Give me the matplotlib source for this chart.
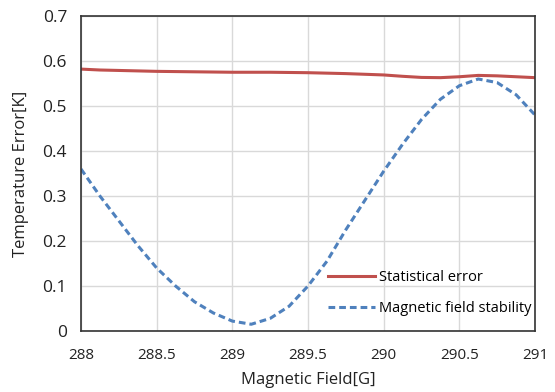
import matplotlib
matplotlib.use("Agg")
import matplotlib.pyplot as plt

field = [288, 288.125, 288.25, 288.375, 288.5, 288.625, 288.75, 288.875, 289, 289.125,
         289.25, 289.375, 289.5, 289.625, 289.75, 289.875, 290, 290.125, 290.25, 290.375,
         290.5, 290.625, 290.75, 290.875, 291]
stat_err = [0.582, 0.580, 0.579, 0.578, 0.577, 0.5765, 0.576, 0.5755, 0.575, 0.575,
            0.575, 0.5745, 0.574, 0.573, 0.572, 0.5705, 0.569, 0.566, 0.5635, 0.563,
            0.565, 0.568, 0.567, 0.565, 0.563]
mag_stab = [0.36, 0.30, 0.245, 0.19, 0.14, 0.10, 0.065, 0.04, 0.022, 0.015,
            0.028, 0.055, 0.10, 0.155, 0.225, 0.29, 0.355, 0.415, 0.47, 0.515,
            0.545, 0.56, 0.552, 0.525, 0.48]

plt.rcParams['font.family'] = ['Open Sans', 'DejaVu Sans']

fig = plt.figure(figsize=(5.55, 3.92), dpi=100)
ax = fig.add_axes([81/555, 1 - 331/392, 454/555, 315/392])

ax.plot(field, stat_err, color='#C0504D', lw=2.2, label='Statistical error')
ax.plot(field, mag_stab, color='#4F81BD', lw=2.2, linestyle=(0, (2.2, 1.3)),
        label='Magnetic field stability')

ax.set_xlim(288, 291)
ax.set_ylim(0, 0.7)
ax.set_xticks([288, 288.5, 289, 289.5, 290, 290.5, 291])
ax.set_xticklabels(['288', '288.5', '289', '289.5', '290', '290.5', '291'])
ax.set_yticks([0, 0.1, 0.2, 0.3, 0.4, 0.5, 0.6, 0.7])
ax.set_yticklabels(['0', '0.1', '0.2', '0.3', '0.4', '0.5', '0.6', '0.7'])
ax.tick_params(length=0, labelsize=12.5, colors='#222222', pad=10)
ax.tick_params(axis='x', pad=12, labelsize=11)
ax.grid(color='#D9D9D9', lw=1)
ax.set_axisbelow(True)
for s in ax.spines.values():
    s.set_color('#333333')
    s.set_linewidth(1.2)

ax.set_xlabel('Magnetic Field[G]', fontsize=12, color='#222222', labelpad=7)
ax.set_ylabel('Temperature Error[K]', fontsize=12, color='#222222', labelpad=10)

ax.legend(loc='lower right', bbox_to_anchor=(1.025, 0.0), frameon=False,
          fontsize=10.5, handlelength=3.2, handletextpad=0.3, labelspacing=1.1,
          borderaxespad=0.6)

fig.savefig('out.png', dpi=100)
